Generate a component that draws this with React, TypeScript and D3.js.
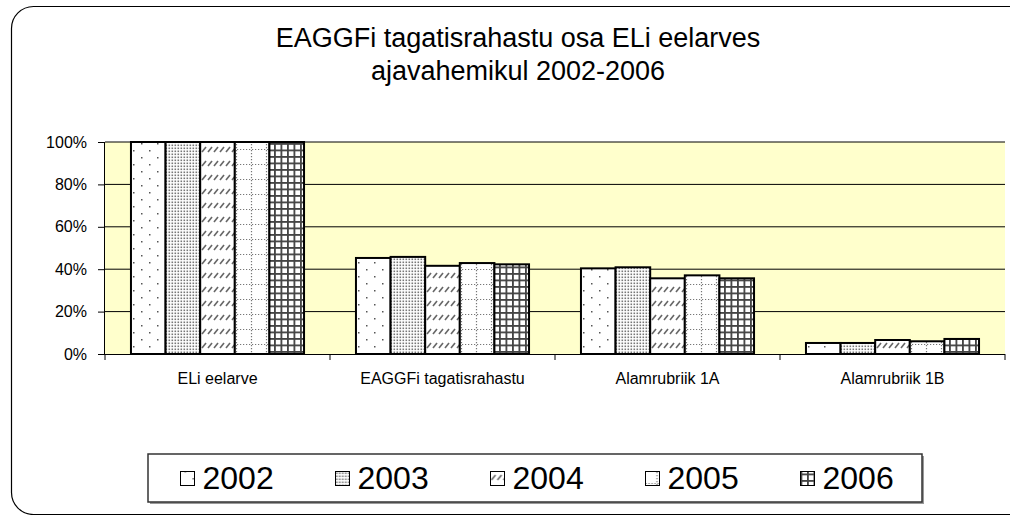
import React, { useEffect, useRef } from "react";
import * as d3 from "d3";

const categories = ["ELi eelarve", "EAGGFi tagatisrahastu", "Alamrubriik 1A", "Alamrubriik 1B"];
const years = ["2002", "2003", "2004", "2005", "2006"];
// share in % per year, one array per category
const eliEelarve = [100, 100, 100, 100, 100];
const eaggfi = [45.3, 45.8, 41.6, 42.9, 42.3];
const alam1A = [40.4, 40.9, 35.7, 37.1, 35.7];
const alam1B = [5.2, 5.2, 6.6, 6.0, 7.1];
const yTicks = [0, 20, 40, 60, 80, 100];

const FONT = "'Liberation Sans', Arial, sans-serif";

const App: React.FC = () => {
  const svgRef = useRef<SVGSVGElement>(null);

  useEffect(() => {
    const values = [eliEelarve, eaggfi, alam1A, alam1B];
    const width = 1010;
    const height = 515;
    const plot = { left: 105, right: 1005, top: 142, bottom: 354 };

    const svg = d3.select(svgRef.current).attr("width", width).attr("height", height);
    svg.selectAll("*").remove();

    // fill patterns, one per year
    const defs = svg.append("defs");
    const pat = (id: string, w: number, h: number) =>
      defs
        .append("pattern")
        .attr("id", id)
        .attr("patternUnits", "userSpaceOnUse")
        .attr("width", w)
        .attr("height", h);

    const p0 = pat("p2002", 16, 14);
    p0.append("rect").attr("width", 16).attr("height", 14).attr("fill", "#fff");
    p0.append("rect").attr("x", 4).attr("y", 3).attr("width", 1.5).attr("height", 1.5).attr("fill", "#555");
    p0.append("rect").attr("x", 12).attr("y", 10).attr("width", 1.5).attr("height", 1.5).attr("fill", "#555");

    const p1 = pat("p2003", 3, 3);
    p1.append("rect").attr("width", 3).attr("height", 3).attr("fill", "#fff");
    p1.append("rect").attr("x", 0.5).attr("y", 0.5).attr("width", 1.6).attr("height", 1.6).attr("fill", "#777");

    const p2 = pat("p2004", 6, 14);
    p2.append("rect").attr("width", 6).attr("height", 14).attr("fill", "#fff");
    p2.append("line")
      .attr("x1", 1).attr("y1", 12).attr("x2", 5).attr("y2", 7)
      .attr("stroke", "#666").attr("stroke-width", 1.6);

    const p3 = pat("p2005", 15, 15);
    p3.append("rect").attr("width", 15).attr("height", 15).attr("fill", "#fff");
    p3.append("line").attr("x1", 0).attr("y1", 14.5).attr("x2", 15).attr("y2", 14.5)
      .attr("stroke", "#777").attr("stroke-width", 1.2).attr("stroke-dasharray", "1.2,1.8");
    p3.append("line").attr("x1", 11.5).attr("y1", 0).attr("x2", 11.5).attr("y2", 15)
      .attr("stroke", "#777").attr("stroke-width", 1.2).attr("stroke-dasharray", "1.2,1.8");

    const p4 = pat("p2006", 6.5, 6.5);
    p4.append("rect").attr("width", 6.5).attr("height", 6.5).attr("fill", "#fff");
    p4.append("rect").attr("x", 0).attr("y", 0).attr("width", 6.5).attr("height", 1.8).attr("fill", "#444");
    p4.append("rect").attr("x", 0).attr("y", 0).attr("width", 1.8).attr("height", 6.5).attr("fill", "#444");

    // chart border
    svg.append("rect")
      .attr("x", 11.5).attr("y", 6.5)
      .attr("width", 1040).attr("height", 508)
      .attr("rx", 22).attr("ry", 22)
      .attr("fill", "#fff").attr("stroke", "#000").attr("stroke-width", 1.2);

    // title
    const title = svg.append("text")
      .attr("text-anchor", "middle")
      .style("font-family", FONT)
      .style("font-size", "27px");
    title.append("tspan").attr("x", 518).attr("y", 47).text("EAGGFi tagatisrahastu osa ELi eelarves");
    title.append("tspan").attr("x", 518).attr("y", 80).text("ajavahemikul 2002-2006");

    const x0 = d3.scaleBand().domain(categories).range([plot.left, plot.right]).paddingInner(0).paddingOuter(0);
    // gap width 150% -> 0.75 bar width each side of the group
    const x1 = d3.scaleBand().domain(years).range([0, x0.bandwidth()]).paddingInner(0).paddingOuter(0.75);
    const y = d3.scaleLinear().domain([0, 100]).range([plot.bottom, plot.top]);

    // plot area
    svg.append("rect")
      .attr("x", plot.left).attr("y", plot.top)
      .attr("width", plot.right - plot.left).attr("height", plot.bottom - plot.top)
      .attr("fill", "#ffffcc");

    // gridlines
    svg.append("g")
      .selectAll("line")
      .data(yTicks.filter(t => t > 0))
      .enter()
      .append("line")
      .attr("x1", plot.left).attr("x2", plot.right)
      .attr("y1", d => y(d)).attr("y2", d => y(d))
      .attr("stroke", "#000").attr("stroke-width", 1);

    // bars
    const groups = svg.append("g")
      .selectAll("g")
      .data(categories)
      .enter()
      .append("g")
      .attr("transform", d => `translate(${x0(d)},0)`);

    groups.selectAll("rect")
      .data((_, i) => values[i].map((v, j) => ({ year: years[j], v })))
      .enter()
      .append("rect")
      .attr("x", d => x1(d.year)!)
      .attr("y", d => y(d.v))
      .attr("width", x1.bandwidth())
      .attr("height", d => plot.bottom - y(d.v))
      .attr("fill", d => `url(#p${d.year})`)
      .attr("stroke", "#000")
      .attr("stroke-width", 2);

    // y axis
    const yAxis = svg.append("g")
      .attr("transform", `translate(${plot.left},0)`)
      .call(d3.axisLeft(y).tickValues(yTicks).tickSize(7).tickPadding(11).tickFormat(d => `${d}%`));
    yAxis.select(".domain").attr("d", `M-0.5,${plot.top}V${plot.bottom}`).attr("stroke", "#000");
    yAxis.selectAll("text").style("font-family", FONT).style("font-size", "16px").attr("fill", "#000");

    // x axis
    const xAxis = svg.append("g")
      .attr("transform", `translate(0,${plot.bottom})`)
      .call(d3.axisBottom(x0).tickSize(0).tickPadding(19));
    xAxis.select(".domain").attr("d", `M${plot.left},0.5H${plot.right}`).attr("stroke", "#000");
    xAxis.selectAll("text").style("font-family", FONT).style("font-size", "16px").attr("fill", "#000");
    xAxis.selectAll(".sep")
      .data(d3.range(categories.length + 1))
      .enter()
      .append("line")
      .attr("class", "sep")
      .attr("x1", i => plot.left + i * x0.bandwidth())
      .attr("x2", i => plot.left + i * x0.bandwidth())
      .attr("y1", 0).attr("y2", 6)
      .attr("stroke", "#000");

    // legend
    const lg = { x: 148, y: 454, w: 774, h: 48 };
    svg.append("rect")
      .attr("x", lg.x + 2).attr("y", lg.y + 2).attr("width", lg.w).attr("height", lg.h)
      .attr("fill", "#999");
    svg.append("rect")
      .attr("x", lg.x).attr("y", lg.y).attr("width", lg.w).attr("height", lg.h)
      .attr("fill", "#fff").attr("stroke", "#333").attr("stroke-width", 1.5);

    const items = svg.append("g")
      .selectAll("g")
      .data(years)
      .enter()
      .append("g")
      .attr("transform", (d, i) => `translate(${180.5 + i * 155},${lg.y})`);
    items.append("rect")
      .attr("x", 0).attr("y", 17.5).attr("width", 14).attr("height", 14)
      .attr("fill", d => `url(#p${d})`)
      .attr("stroke", "#000").attr("stroke-width", 1);
    items.append("text")
      .attr("x", 22).attr("y", 35)
      .text(d => d)
      .style("font-family", FONT)
      .style("font-size", "32px");
  }, []);

  return (
    <div>
      <svg ref={svgRef} style={{ position: "absolute", left: 0, top: 0 }}></svg>
    </div>
  );
};

export default App;
